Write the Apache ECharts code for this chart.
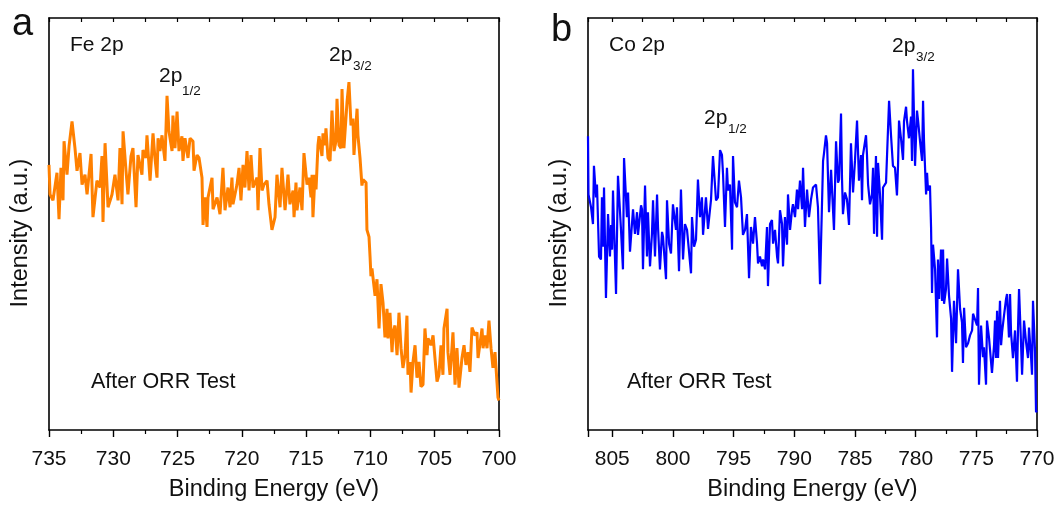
<!DOCTYPE html>
<html>
<head>
<meta charset="utf-8">
<script src="https://cdn.jsdelivr.net/npm/echarts@6/dist/echarts.min.js"></script>
<style>
html,body{margin:0;padding:0;background:#fff;}
#chart{width:1059px;height:507px;}
</style>
</head>
<body>
<div id="chart"></div>
<script>
// ---------- DATA ----------
const feEnergy = [735.0,734.92,734.69,734.38,734.22,734.07,733.91,733.83,733.60,733.44,733.21,732.98,732.82,732.59,732.43,732.20,732.04,731.73,731.58,731.27,731.03,730.88,730.80,730.64,730.41,730.10,729.87,729.63,729.48,729.32,729.24,729.01,728.86,728.62,728.47,728.23,728.08,727.77,727.69,727.46,727.38,727.14,726.91,726.76,726.60,726.52,726.37,726.21,726.13,725.98,725.82,725.67,725.43,725.36,725.20,725.04,724.89,724.66,724.58,724.42,724.19,724.03,723.80,723.72,723.49,723.33,723.10,723.02,722.87,722.71,722.63,722.32,722.24,721.93,721.70,721.47,721.31,721.08,720.92,720.77,720.69,720.38,720.22,720.07,719.91,719.76,719.60,719.44,719.29,719.13,718.82,718.74,718.59,718.43,718.28,718.04,717.89,717.66,717.42,717.27,717.03,716.88,716.64,716.41,716.26,716.02,715.94,715.79,715.71,715.48,715.32,715.17,714.93,714.78,714.62,714.54,714.47,714.31,714.23,714.08,714.00,713.77,713.69,713.53,713.46,713.30,713.14,712.99,712.83,712.68,712.60,712.44,712.29,712.21,712.06,711.82,711.67,711.51,711.36,711.28,711.04,710.97,710.81,710.66,710.58,710.34,710.27,710.11,710.03,709.96,709.88,709.80,709.64,709.49,709.33,709.18,709.02,708.87,708.71,708.63,708.48,708.32,708.24,708.09,707.93,707.78,707.62,707.47,707.31,707.16,707.08,706.92,706.84,706.69,706.53,706.38,706.22,706.07,705.91,705.76,705.60,705.52,705.29,705.13,704.98,704.82,704.67,704.51,704.36,704.28,704.04,703.97,703.81,703.66,703.58,703.42,703.27,703.11,702.88,702.72,702.57,702.41,702.26,702.10,701.87,701.71,701.63,701.32,701.24,701.09,700.93,700.78,700.62,700.47,700.31,700.16,700.08,700.0];
const feIntensity = [269,239,233,261,214,266,233,293,259,288,313,286,263,281,249,259,239,280,216,253,246,278,211,291,226,239,259,233,286,229,303,263,239,278,286,226,279,259,284,276,299,253,301,276,256,296,283,299,289,273,339,303,283,319,286,323,283,298,273,296,276,296,293,263,279,276,256,208,236,206,236,256,224,236,219,266,223,246,226,256,229,249,266,233,269,246,283,243,279,246,256,223,286,243,249,253,229,203,216,259,226,266,223,259,229,243,216,251,223,246,223,281,249,256,236,259,216,259,244,289,298,278,301,289,306,276,273,324,283,293,336,289,286,346,286,333,353,309,316,279,326,299,276,248,254,251,203,196,176,156,164,163,136,153,103,148,129,94,123,93,119,79,99,106,76,119,83,63,76,116,56,69,38,69,86,53,69,44,46,103,76,93,86,96,73,49,56,86,56,103,123,79,56,83,99,46,83,43,73,86,66,79,59,104,96,99,73,103,83,96,83,111,83,63,79,78,33,30];

const coEnergy = [807.0,806.96,806.75,806.59,806.51,806.34,806.26,806.09,805.93,805.85,805.76,805.68,805.52,805.35,805.19,805.10,805.02,804.94,804.69,804.53,804.28,804.12,804.03,803.79,803.70,803.54,803.29,803.13,802.96,802.88,802.63,802.55,802.47,802.30,802.14,802.06,801.89,801.73,801.64,801.48,801.31,801.23,801.07,800.90,800.82,800.57,800.49,800.32,800.16,800.00,799.91,799.75,799.67,799.50,799.34,799.17,799.01,798.84,798.68,798.51,798.43,798.26,798.10,797.94,797.77,797.61,797.52,797.28,797.11,796.86,796.70,796.45,796.29,796.12,795.96,795.87,795.71,795.55,795.46,795.30,795.13,795.05,794.89,794.72,794.56,794.39,794.23,794.06,793.90,793.73,793.57,793.40,793.24,793.07,792.99,792.83,792.66,792.58,792.41,792.25,792.17,792.00,791.84,791.75,791.59,791.42,791.34,791.18,791.01,790.93,790.77,790.60,790.52,790.35,790.19,790.11,789.94,789.78,789.69,789.53,789.36,789.28,789.12,788.95,788.79,788.62,788.46,788.21,788.05,787.88,787.63,787.55,787.39,787.30,787.14,786.97,786.89,786.73,786.56,786.40,786.31,786.15,786.07,785.99,785.82,785.66,785.49,785.33,785.16,785.00,784.83,784.67,784.50,784.42,784.34,784.09,784.01,783.92,783.76,783.60,783.51,783.43,783.27,783.18,783.10,782.94,782.77,782.69,782.44,782.36,782.19,782.03,781.87,781.70,781.54,781.45,781.37,781.21,781.04,780.96,780.79,780.71,780.55,780.38,780.30,780.22,780.05,779.89,779.80,779.64,779.47,779.39,779.31,779.14,779.06,778.98,778.82,778.73,778.65,778.57,778.49,778.40,778.24,778.16,778.07,777.91,777.83,777.74,777.66,777.50,777.41,777.25,777.08,777.00,776.84,776.67,776.51,776.34,776.18,776.10,776.01,775.85,775.68,775.52,775.35,775.27,775.11,774.94,774.86,774.78,774.61,774.45,774.37,774.20,774.12,773.95,773.79,773.71,773.54,773.46,773.38,773.29,773.21,773.05,772.96,772.88,772.72,772.55,772.47,772.31,772.22,772.14,771.98,771.81,771.65,771.56,771.48,771.32,771.23,771.07,770.90,770.74,770.66,770.49,770.41,770.33,770.16,770.08,770.0];
const coIntensity = [298,239,226,209,268,236,249,176,173,236,186,246,134,219,176,208,183,243,138,258,203,163,276,216,241,181,224,199,221,198,228,224,163,248,176,221,166,199,233,176,239,206,163,201,196,153,233,189,179,229,228,203,226,161,244,173,209,203,201,159,216,186,193,254,216,236,198,236,204,234,278,233,236,284,279,259,206,266,243,249,183,278,231,226,253,236,198,203,219,154,206,189,216,189,169,176,166,173,163,206,146,209,213,189,203,176,169,223,209,166,216,188,239,203,223,229,216,244,224,253,224,266,206,244,216,234,246,249,226,148,273,281,299,291,221,264,263,203,293,251,254,321,256,219,241,234,208,291,241,273,314,253,279,233,279,299,279,249,229,239,266,199,278,196,271,239,193,246,251,253,334,299,268,266,238,269,314,296,274,313,328,313,296,318,273,366,268,324,314,293,273,334,293,239,261,243,248,206,139,188,186,163,94,173,133,183,131,183,128,143,174,136,113,59,131,88,163,123,109,68,124,84,88,96,101,118,119,106,144,46,106,74,84,46,111,93,91,58,86,111,73,121,73,131,86,99,116,133,138,94,138,99,73,101,49,106,143,89,56,111,89,73,104,74,56,131,79,18,20];

const feTicks = [700,705,710,715,720,725,730,735];
const coTicks = [770,775,780,785,790,795,800,805];

// ---------- CHART ----------
const chart = echarts.init(document.getElementById('chart'), null, {renderer:'canvas'});
const FONT = 'Liberation Sans, Arial, sans-serif';
const toPairs = (xs, ys) => xs.map((x, i) => [x, ys[i]]);

function bottomAxis(gi, ticks, max) {
  return {
    type:'value', gridIndex:gi, position:'bottom', inverse:true,
    min:ticks[0], max:max, interval:ticks[1]-ticks[0],
    axisLine:{show:true, onZero:false, lineStyle:{color:'#000', width:1.6}},
    axisTick:{show:true, inside:false, length:7, lineStyle:{color:'#000', width:1.4}},
    minorTick:{show:true, splitNumber:2, length:4, lineStyle:{color:'#000', width:1.2}},
    axisLabel:{show:true, color:'#111', fontSize:21, fontFamily:FONT, margin:19},
    splitLine:{show:false},
    name:'Binding Energy (eV)', nameLocation:'middle', nameGap:48,
    nameTextStyle:{color:'#111', fontSize:23.5, fontFamily:FONT}
  };
}
function topAxis(gi, ticks, max) {
  return {
    type:'value', gridIndex:gi, position:'top', inverse:true,
    min:ticks[0], max:max, interval:ticks[1]-ticks[0],
    axisLine:{show:true, onZero:false, lineStyle:{color:'#000', width:1.6}},
    axisTick:{show:true, inside:true, length:4, lineStyle:{color:'#000', width:1.2}},
    minorTick:{show:true, splitNumber:2, length:4, lineStyle:{color:'#000', width:1.2}},
    axisLabel:{show:false}, splitLine:{show:false}
  };
}
function leftAxis(gi) {
  return {
    type:'value', gridIndex:gi, position:'left', min:0, max:418,
    axisLine:{show:true, onZero:false, lineStyle:{color:'#000', width:1.6}},
    axisTick:{show:false}, axisLabel:{show:false}, splitLine:{show:false},
    name:'Intensity (a.u.)', nameLocation:'middle', nameGap:16, nameRotate:90,
    nameTextStyle:{color:'#111', fontSize:23.5, fontFamily:FONT, padding:[0,18,0,0]}
  };
}
function rightAxis(gi) {
  return {
    type:'value', gridIndex:gi, position:'right', min:0, max:418,
    axisLine:{show:true, onZero:false, lineStyle:{color:'#000', width:1.6}},
    axisTick:{show:false}, axisLabel:{show:false}, splitLine:{show:false}
  };
}

function txt(x, y, s, size) {
  return {type:'text', left:x, top:y, style:{text:s, fontSize:size, fontFamily:FONT, fill:'#111'}};
}

const option = {
  backgroundColor:'#fff',
  animation:false,
  grid:[
    {left:49, top:18, width:450, height:418},
    {left:588, top:18, width:449, height:418}
  ],
  xAxis:[bottomAxis(0,feTicks,735), topAxis(0,feTicks,735), bottomAxis(1,coTicks,807), topAxis(1,coTicks,807)],
  yAxis:[leftAxis(0), rightAxis(0), leftAxis(1), rightAxis(1)],
  series:[
    {type:'line', xAxisIndex:0, yAxisIndex:0, data:toPairs(feEnergy, feIntensity),
     showSymbol:false, lineStyle:{color:'#FF8000', width:3}, itemStyle:{color:'#FF8000'}},
    {type:'line', xAxisIndex:2, yAxisIndex:2, data:toPairs(coEnergy, coIntensity),
     showSymbol:false, lineStyle:{color:'#0000FF', width:2.2}, itemStyle:{color:'#0000FF'}}
  ],
  graphic:[
    txt(12, 6, 'a', 38),
    txt(551, 12, 'b', 38),
    txt(70, 35, 'Fe 2p', 21),
    txt(609, 35, 'Co 2p', 21),
    txt(159, 66, '2p', 21), txt(182, 84, '1/2', 13.5),
    txt(329, 45, '2p', 21), txt(353, 59, '3/2', 13.5),
    txt(704, 108, '2p', 21), txt(728, 122, '1/2', 13.5),
    txt(892, 36, '2p', 21), txt(916, 50, '3/2', 13.5),
    txt(91, 371, 'After ORR Test', 21.5),
    txt(627, 371, 'After ORR Test', 21.5)
  ]
};
chart.setOption(option);
</script>
</body>
</html>
